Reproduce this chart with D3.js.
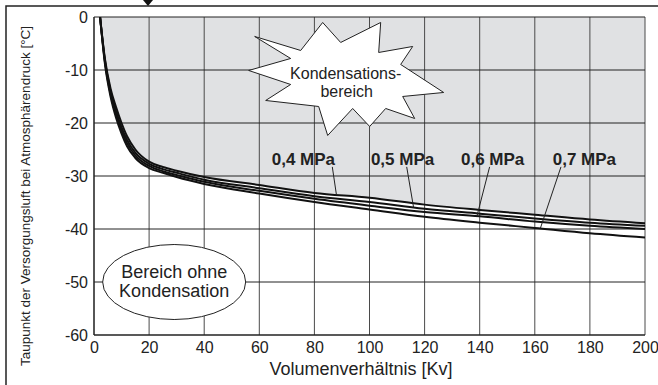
<!DOCTYPE html>
<html>
<head>
<meta charset="utf-8">
<script src="https://cdn.jsdelivr.net/npm/d3@7"></script>
<style>
  html, body { margin: 0; padding: 0; background: #fff; }
  svg { display: block; font-family: "Liberation Sans", Arial, sans-serif; }
</style>
</head>
<body>
<div id="chart"></div>
<script>
// Volume ratio Kv and dew point [°C] per supply pressure
const kv = [2.2, 4, 6, 8, 10, 12, 15, 20, 25, 30, 40, 60, 80, 100, 120, 140, 160, 180, 200];
const p04 = [0, -8, -13.5, -17, -20, -22.5, -25, -27.3, -28.3, -29, -30.2, -31.7, -33.2, -34.1, -35.4, -36.4, -37.3, -38.2, -38.9];
const p05 = [0, -8.3, -14, -17.8, -20.8, -23.2, -25.6, -27.7, -28.7, -29.4, -30.7, -32.3, -33.8, -34.9, -36.2, -37.1, -38, -38.8, -39.4];
const p06 = [0, -8.6, -14.5, -18.4, -21.4, -23.8, -26.1, -28.1, -29.1, -29.8, -31.1, -32.8, -34.3, -35.6, -36.8, -37.6, -38.6, -39.4, -40.0];
const p07 = [0, -9, -15, -19, -22, -24.4, -26.6, -28.5, -29.4, -30.2, -31.5, -33.3, -34.9, -36.3, -37.7, -38.8, -39.8, -40.8, -41.6];

const seriesNames = ['0,4 MPa', '0,5 MPa', '0,6 MPa', '0,7 MPa'];
// label anchor (Kv, dew point) and pointer start / target Kv
const labelKv = [76, 112, 144.7, 178];
const labelY = -27.9;
const pointerFromKv = [86.5, 113.5, 143.6, 169.5];
const pointerToKv = [88, 116, 139, 162];

const xTicks = [0, 20, 40, 60, 80, 100, 120, 140, 160, 180, 200];
const yTicks = [0, -10, -20, -30, -40, -50, -60];

const W = 658, H = 385;
const margin = { top: 17, right: 13, bottom: 50, left: 94 };
const width = W - margin.left - margin.right;
const height = H - margin.top - margin.bottom;

const svg = d3.select('#chart').append('svg')
  .attr('width', W)
  .attr('height', H);

// outer frame (top + left) with small marker
svg.append('path')
  .attr('d', `M6,${H} L6,6 L${W},6`)
  .attr('fill', 'none')
  .attr('stroke', '#222')
  .attr('stroke-width', 1.5);
svg.append('path')
  .attr('d', 'M143,0 L153,0 L148,6 Z')
  .attr('fill', '#111');

const g = svg.append('g').attr('transform', `translate(${margin.left},${margin.top})`);

const x = d3.scaleLinear().domain([0, 200]).range([0, width]);
const y = d3.scaleLinear().domain([-60, 0]).range([height, 0]);

const series = [p04, p05, p06, p07].map(vals => kv.map((k, i) => ({ kv: k, v: vals[i] })));

// condensation region: above the warmest curve
g.append('path')
  .datum(series[0])
  .attr('fill', '#e0e1e3')
  .attr('d', d3.area()
    .x(d => x(d.kv))
    .y0(y(0))
    .y1(d => y(d.v))
    .curve(d3.curveMonotoneX));

// grid
g.append('g')
  .selectAll('line')
  .data(xTicks)
  .join('line')
  .attr('x1', d => x(d)).attr('x2', d => x(d))
  .attr('y1', 0).attr('y2', height)
  .attr('stroke', '#4a4a4a')
  .attr('stroke-width', 1);
g.append('g')
  .selectAll('line')
  .data(yTicks)
  .join('line')
  .attr('x1', 0).attr('x2', width)
  .attr('y1', d => y(d)).attr('y2', d => y(d))
  .attr('stroke', '#222')
  .attr('stroke-width', 1);
g.append('line')
  .attr('x1', 0).attr('x2', 0).attr('y1', 0).attr('y2', height)
  .attr('stroke', '#222').attr('stroke-width', 1.2);
g.append('line')
  .attr('x1', 0).attr('x2', width).attr('y1', height).attr('y2', height)
  .attr('stroke', '#222').attr('stroke-width', 1.2);

// axes (labels only)
const xAxis = g.append('g')
  .attr('transform', `translate(0,${height})`)
  .call(d3.axisBottom(x).tickValues(xTicks).tickSize(0).tickPadding(7).tickFormat(d => String(d)));
const yAxis = g.append('g')
  .call(d3.axisLeft(y).tickValues(yTicks).tickSize(0).tickPadding(6).tickFormat(d => String(d)));
[xAxis, yAxis].forEach(a => {
  a.select('.domain').remove();
  a.selectAll('text')
    .attr('fill', '#222')
    .style('font-size', '16px')
    .style('font-family', '"Liberation Sans", Arial, sans-serif');
});

// annotations: star and ellipse
const starCx = x(87), starCy = y(-11.6);
const starPts = [
  [-79, -42], [-33, -28], [-11, -56], [7, -36], [47, -56], [45, -26], [79, -32], [67, -14],
  [110, 14], [69, 18], [81, 40], [52, 30], [36, 48], [19, 30], [-6, 57], [-15, 28],
  [-68, 22], [-43, 6], [-85, -8], [-43, -20]
];
g.append('polygon')
  .attr('points', starPts.map(p => [starCx + p[0], starCy + p[1]].join(',')).join(' '))
  .attr('fill', '#fff')
  .attr('stroke', '#222')
  .attr('stroke-width', 1);
g.append('text')
  .attr('x', starCx + 12).attr('y', starCy + 1)
  .attr('text-anchor', 'middle')
  .style('font-size', '16px').attr('fill', '#222')
  .text('Kondensations-');
g.append('text')
  .attr('x', starCx + 13).attr('y', starCy + 19)
  .attr('text-anchor', 'middle')
  .style('font-size', '16px').attr('fill', '#222')
  .text('bereich');

const ellCx = x(29.1), ellCy = y(-50);
g.append('ellipse')
  .attr('cx', ellCx).attr('cy', ellCy)
  .attr('rx', 71.5).attr('ry', 37.5)
  .attr('fill', '#fff')
  .attr('stroke', '#222')
  .attr('stroke-width', 1);
g.append('text')
  .attr('x', ellCx).attr('y', ellCy - 4)
  .attr('text-anchor', 'middle')
  .style('font-size', '18px').attr('fill', '#222')
  .text('Bereich ohne');
g.append('text')
  .attr('x', ellCx).attr('y', ellCy + 15)
  .attr('text-anchor', 'middle')
  .style('font-size', '18px').attr('fill', '#222')
  .text('Kondensation');

// curves
const line = d3.line()
  .x(d => x(d.kv))
  .y(d => y(d.v))
  .curve(d3.curveMonotoneX);
g.append('g')
  .selectAll('path')
  .data(series)
  .join('path')
  .attr('fill', 'none')
  .attr('stroke', '#111')
  .attr('stroke-width', 2)
  .attr('d', line);

// pressure labels with pointers
const valueAt = (s, k) => d3.scaleLinear().domain(kv).range(s.map(d => d.v))(k);
seriesNames.forEach((name, i) => {
  g.append('text')
    .attr('x', x(labelKv[i])).attr('y', y(labelY))
    .attr('text-anchor', 'middle')
    .style('font-size', '17px').style('font-weight', 'bold').attr('fill', '#222')
    .text(name);
  g.append('line')
    .attr('x1', x(pointerFromKv[i])).attr('y1', y(labelY) + 2)
    .attr('x2', x(pointerToKv[i])).attr('y2', y(valueAt(series[i], pointerToKv[i])))
    .attr('stroke', '#222').attr('stroke-width', 1);
});

// axis titles
svg.append('text')
  .attr('x', 361).attr('y', 375)
  .attr('text-anchor', 'middle')
  .style('font-size', '18px').attr('fill', '#222')
  .text('Volumenverhältnis [Kv]');
svg.append('text')
  .attr('transform', 'translate(30,196) rotate(-90)')
  .attr('text-anchor', 'middle')
  .style('font-size', '13.5px').attr('fill', '#222')
  .text('Taupunkt der Versorgungsluft bei Atmosphärendruck [°C]');
</script>
</body>
</html>
